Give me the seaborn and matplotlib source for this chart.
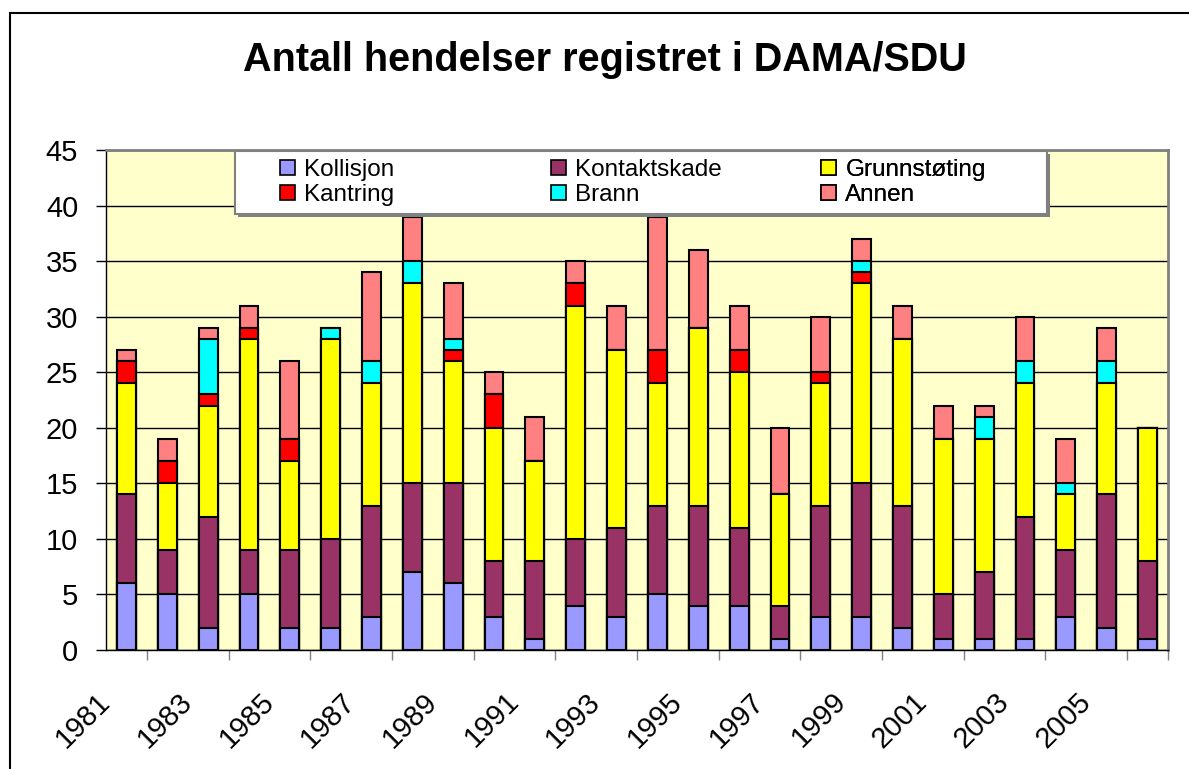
import numpy as np
import pandas as pd
import matplotlib
import matplotlib.pyplot as plt
import matplotlib.patches as mpatches
import seaborn as sns

matplotlib.use('Agg')

years = [str(y) for y in range(1981, 2007)]

# values per year, stacked bottom -> top
kollisjon = [6, 5, 2, 5, 2, 2, 3, 7, 6, 3, 1, 4, 3, 5, 4, 4, 1, 3, 3, 2, 1, 1, 1, 3, 2, 1]
kontaktskade = [8, 4, 10, 4, 7, 8, 10, 8, 9, 5, 7, 6, 8, 8, 9, 7, 3, 10, 12, 11, 4, 6, 11, 6, 12, 7]
grunnstoting = [10, 6, 10, 19, 8, 18, 11, 18, 11, 12, 9, 21, 16, 11, 16, 14, 10, 11, 18, 15, 14, 12, 12, 5, 10, 12]
kantring = [2, 2, 1, 1, 2, 0, 0, 0, 1, 3, 0, 2, 0, 3, 0, 2, 0, 1, 1, 0, 0, 0, 0, 0, 0, 0]
brann = [0, 0, 5, 0, 0, 1, 2, 2, 1, 0, 0, 0, 0, 0, 0, 0, 0, 0, 1, 0, 0, 2, 2, 1, 2, 0]
annen = [1, 2, 1, 2, 7, 0, 8, 4, 5, 2, 4, 2, 4, 12, 7, 4, 6, 5, 2, 3, 3, 1, 4, 4, 3, 0]

series = ['Kollisjon', 'Kontaktskade', 'Grunnstøting', 'Kantring', 'Brann', 'Annen']
colors = ['#9999FF', '#993366', '#FFFF00', '#FF0000', '#00FFFF', '#FF8080']
values = [kollisjon, kontaktskade, grunnstoting, kantring, brann, annen]

df = pd.DataFrame(dict(zip(series, values)), index=years)
cum = df.cumsum(axis=1)
cum['year'] = years

sns.set_style("white")
plt.rcParams['font.family'] = ['Liberation Sans', 'DejaVu Sans']
plt.rcParams['text.color'] = 'black'

fig = plt.figure(figsize=(11.89, 7.69), dpi=100)
ax = fig.add_axes([106 / 1189, 1 - 650 / 769, 1062 / 1189, 500 / 769])
ax.set_facecolor('#FFFFCC')

# draw the cumulative totals from top to bottom so each layer covers the next
for name, c in reversed(list(zip(series, colors))):
    sns.barplot(data=cum, x='year', y=name, order=years, color=c,
                saturation=1, width=0.46, edgecolor='black', linewidth=1.5,
                ax=ax, zorder=3)

ax.set_xlim(-0.5, len(years) - 0.5)
ax.set_ylim(0, 45)
ax.set_yticks(np.arange(0, 46, 5))
ax.yaxis.grid(True, color='black', linewidth=1, zorder=0)
ax.set_axisbelow(True)
ax.set_xlabel('')
ax.set_ylabel('')

ax.tick_params(axis='y', left=True, length=7, width=1, color='black',
               labelcolor='black', labelsize=21, pad=13)

label_idx = list(range(0, len(years), 2))
ax.set_xticks([i - 0.5 for i in label_idx])
ax.set_xticklabels([years[i] for i in label_idx], rotation=45, ha='right',
                   va='center', rotation_mode='anchor', fontsize=21)
ax.tick_params(axis='x', which='major', length=0, pad=34, labelcolor='black')
ax.set_xticks(np.arange(-0.5, len(years), 1), minor=True)
ax.tick_params(axis='x', which='minor', bottom=True, length=7, width=1,
               color='#808080')

for s in ['top', 'right']:
    ax.spines[s].set_color('#808080')
    ax.spines[s].set_linewidth(2)
for s in ['left', 'bottom']:
    ax.spines[s].set_color('black')
    ax.spines[s].set_linewidth(1)

# legend: white box with shadow, three columns of two entries
box = (0.1215, 0.872, 0.7646, 0.126)
ax.add_patch(mpatches.Rectangle((box[0] + 0.003, box[1] - 0.006), box[2], box[3],
                                transform=ax.transAxes, facecolor='#808080',
                                edgecolor='none', zorder=8, clip_on=False))
ax.add_patch(mpatches.Rectangle(box[:2], box[2], box[3], transform=ax.transAxes,
                                facecolor='white', edgecolor='#808080',
                                linewidth=1.5, zorder=9, clip_on=False))

handles = [mpatches.Patch(facecolor=c, edgecolor='black', linewidth=1.2, label=n)
           for n, c in zip(series, colors)]
col_x = [0.1638, 0.419, 0.6733]
for k, x in enumerate(col_x):
    leg = ax.legend([handles[k], handles[k + 3]], [series[k], series[k + 3]],
                    loc='center left', bbox_to_anchor=(x, 0.935),
                    fontsize=17.5, frameon=False, handlelength=0.6,
                    handleheight=0.6, handletextpad=0.4, borderpad=0,
                    labelspacing=0.12, borderaxespad=0)
    leg.set_zorder(11)
    ax.add_artist(leg)

fig.text(0.509, 1 - 60 / 769, 'Antall hendelser registret i DAMA/SDU',
         ha='center', va='center', fontsize=28.5, fontweight='bold')

fig.patches.append(mpatches.Rectangle((10 / 1189, -0.1), 1.2, 1 - 13 / 769 + 0.1,
                                      transform=fig.transFigure, fill=False,
                                      edgecolor='black', linewidth=1.5))

plt.savefig('out.png', dpi=100)
plt.close()
